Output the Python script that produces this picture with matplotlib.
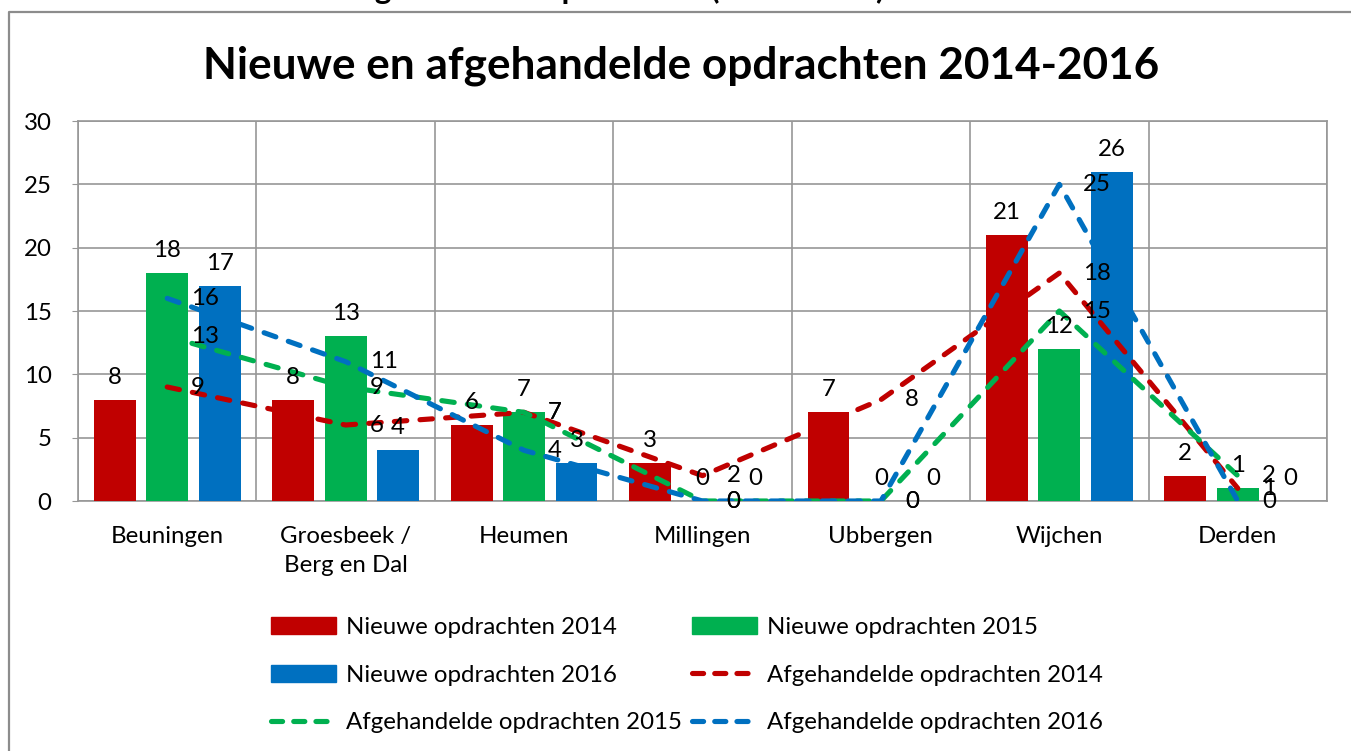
import matplotlib
matplotlib.use("Agg")
import matplotlib.pyplot as plt
from matplotlib.lines import Line2D
from matplotlib.patches import Patch
import numpy as np

plt.rcParams['font.family'] = ['Lato', 'DejaVu Sans']
plt.rcParams['lines.scale_dashes'] = False

categories = ["Beuningen", "Groesbeek /\nBerg en Dal", "Heumen", "Millingen",
              "Ubbergen", "Wijchen", "Derden"]
nieuw_2014 = [8, 8, 6, 3, 7, 21, 2]
nieuw_2015 = [18, 13, 7, 0, 0, 12, 1]
nieuw_2016 = [17, 4, 3, 0, 0, 26, 0]
afgehandeld_2014 = [9, 6, 7, 2, 8, 18, 1]
afgehandeld_2015 = [13, 9, 7, 0, 0, 15, 2]
afgehandeld_2016 = [16, 11, 4, 0, 0, 25, 0]
y_ticks = [0, 5, 10, 15, 20, 25, 30]

title = "Nieuwe en afgehandelde opdrachten 2014-2016"
lbl_n14, lbl_n15, lbl_n16 = "Nieuwe opdrachten 2014", "Nieuwe opdrachten 2015", "Nieuwe opdrachten 2016"
lbl_a14, lbl_a15, lbl_a16 = "Afgehandelde opdrachten 2014", "Afgehandelde opdrachten 2015", "Afgehandelde opdrachten 2016"

RED, GREEN, BLUE = "#C00000", "#00B050", "#0070C0"
GRID = "#979797"
FS = 17.3

W, H = 1351, 751
fig = plt.figure(figsize=(W / 100, H / 100), dpi=100)

# outer chart border (partially cropped in reference)
top_y = 12
fig.add_artist(Line2D([9 / W, 9 / W, 1.0], [0.0, 1 - top_y / H, 1 - top_y / H],
                      transform=fig.transFigure, color="#8c8c8c", lw=1.6))
# cropped document text above chart (only descenders visible)
fig.text(190 / W, 1 + 1 / H, "Nieuwe en afgehandelde opdrachten (2014-2016)",
         fontsize=22.5, fontweight="bold", ha="left", va="baseline", color="black")

ax = fig.add_axes([78 / W, 1 - 501 / H, (1327 - 78) / W, (501 - 121) / H])
x = np.arange(len(categories))
bw = 0.235
off = 0.294
series_bars = [(nieuw_2014, RED, -off), (nieuw_2015, GREEN, 0.0), (nieuw_2016, BLUE, off)]
for vals, col, o in series_bars:
    bars = ax.bar(x + o, vals, width=bw, color=col, zorder=3)
    for b, v in zip(bars, vals):
        ax.annotate(str(v), (b.get_x() + b.get_width() / 2, v), xytext=(0, 12),
                    textcoords="offset pixels", ha="center", va="bottom",
                    fontsize=FS, color="black", zorder=6)

for vals, col in [(afgehandeld_2014, RED), (afgehandeld_2015, GREEN), (afgehandeld_2016, BLUE)]:
    ax.plot(x, vals, color=col, lw=3.7, dashes=(9, 9.5), dash_capstyle="round", zorder=4)
    for xi, v in zip(x, vals):
        ax.annotate(str(v), (xi, v), xytext=(24, 0), textcoords="offset pixels",
                    ha="left", va="center", fontsize=FS, color="black", zorder=6)

ax.set_xlim(-0.5, len(categories) - 0.5)
ax.set_ylim(0, 30)
ax.set_yticks(y_ticks)
ax.set_yticklabels([str(t) for t in y_ticks], fontsize=FS)
ax.set_xticks(x)
ax.set_xticklabels(categories, fontsize=FS, linespacing=1.45)
ax.tick_params(axis="y", length=4, color=GRID, pad=15)
ax.tick_params(axis="x", length=0, pad=18)
ax.set_xticks(np.arange(-0.5, len(categories), 1.0), minor=True)
ax.grid(True, which="major", axis="y", color=GRID, lw=1.2, zorder=0)
ax.grid(True, which="minor", axis="x", color=GRID, lw=1.2, zorder=0)
ax.tick_params(axis="x", which="minor", length=0)
for s in ax.spines.values():
    s.set_color(GRID)
    s.set_linewidth(1.2)
ax.set_axisbelow(True)

fig.text(681 / W, 1 - 78 / H, title, fontsize=31.8, fontweight="bold",
         ha="center", va="baseline")

lg_kw = dict(lw=3.7, dashes=(8, 8), dash_capstyle="round")
handles = [
    Patch(color=RED, label=lbl_n14),
    Patch(color=BLUE, label=lbl_n16),
    Line2D([], [], color=GREEN, label=lbl_a15, **lg_kw),
    Patch(color=GREEN, label=lbl_n15),
    Line2D([], [], color=RED, label=lbl_a14, **lg_kw),
    Line2D([], [], color=BLUE, label=lbl_a16, **lg_kw),
]
fig.legend(handles=handles, ncol=2, loc="center", bbox_to_anchor=(687 / W, 1 - 675 / H),
           frameon=False, fontsize=FS, handlelength=2.7, handleheight=0.7,
           handletextpad=0.4, columnspacing=0.45, labelspacing=1.1)

fig.savefig("out.png", dpi=100)
